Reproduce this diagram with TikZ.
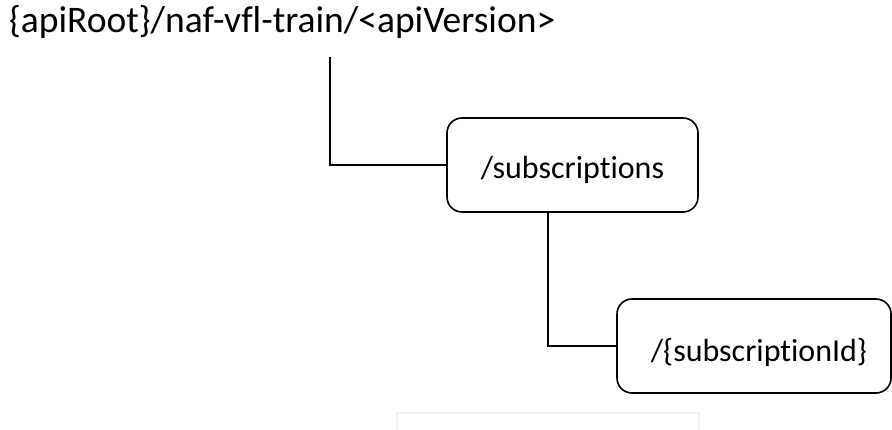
\documentclass[tikz,border=0pt]{standalone}
\usepackage{fontspec}
\setmainfont{Carlito}[Ligatures=NoCommon]
\begin{document}
\begin{tikzpicture}[x=1pt,y=-1pt,
  resbox/.style={draw, line width=1.6pt, rounded corners=15pt, inner sep=0pt, text depth=0pt, font=\fontsize{32}{36}\selectfont},
  link/.style={line width=1.6pt}]
\useasboundingbox (0,0) rectangle (892,430);
% faint frame at the foot of the page
\draw[black!5, line width=1.5pt] (397,413) rectangle (699,440);
% resource path and its sub-resources
\node[anchor=base west, inner sep=0pt, font=\fontsize{37.5}{44}\selectfont] (root) at (9,33) {\{apiRoot\}/naf-vfl-train/<apiVersion>};
\node[resbox, text height=28pt, minimum width=251pt, minimum height=94pt] (subs) at (572.5,165) {/subscriptions};
\node[resbox, text height=32pt, minimum width=274pt, minimum height=94pt] (subid) at (754,346) {\hspace*{10pt}/\{subscriptionId\}};
\coordinate (trunk) at (330,57);
\draw[link] (trunk) |- (subs.west);
\draw[link] ([xshift=-24.5pt]subs.south) |- (subid.west);
\end{tikzpicture}
\end{document}
